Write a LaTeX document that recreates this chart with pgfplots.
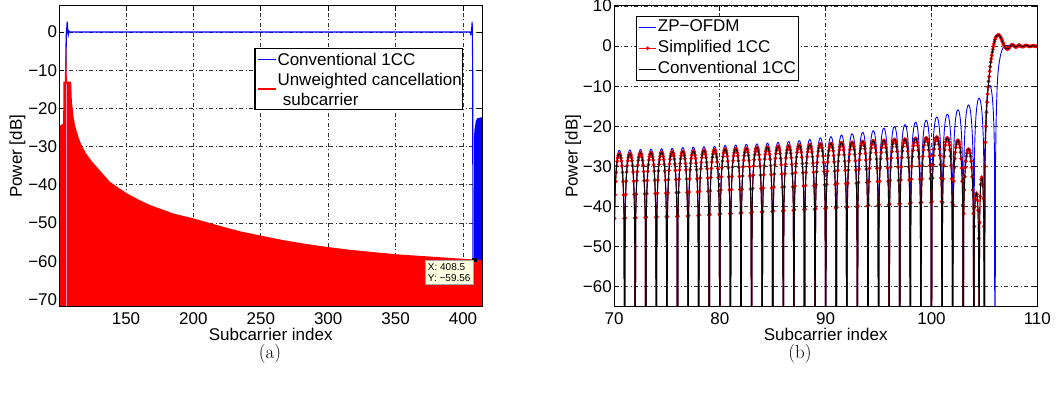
\documentclass[border=0pt]{standalone}
\usepackage{pgfplots}
\pgfplotsset{compat=1.18}
\usepackage{pgfplotstable}
\usepackage{fontspec}
\newfontfamily\arial{Liberation Sans}
\newcommand\af{\arial\fontsize{17bp}{20bp}\selectfont}
\definecolor{tipbg}{RGB}{255,255,225}
\definecolor{gapc}{RGB}{238,150,200}
\pgfplotsset{
  mystyle/.style={
    scale only axis,
    anchor=south west,
    tick align=inside,
    major tick length=5bp,
    tick style={black, line width=0.8bp},
    axis line style={black, line width=1bp},
    grid=major,
    major grid style={black!80, line width=0.7bp, dash pattern=on 4bp off 2.5bp on 1bp off 2.5bp},
    tick label style={font=\af},
    xticklabel style={inner sep=0pt, anchor=north, yshift=-5.6bp},
    yticklabel style={inner sep=0pt, anchor=east, xshift=-2bp},
    label style={font=\af},
    clip marker paths=true,
    legend cell align=left,
    legend image code/.code={\draw[mark repeat=2,mark phase=2,#1] plot coordinates {(0bp,0bp) (8.85bp,0bp) (17.7bp,0bp)};},
  }
}
\begin{document}
\pgfplotstableread{
x b k
70 -100 -100
70.05 -42.1 -43
70.1 -36.2 -37.1
70.15 -32.9 -33.8
70.2 -30.6 -31.5
70.25 -29 -29.9
70.3 -27.8 -28.7
70.35 -27 -27.9
70.4 -26.4 -27.3
70.45 -26.1 -27
70.5 -26 -26.9
70.55 -26.1 -27
70.6 -26.4 -27.3
70.65 -27 -27.9
70.7 -27.8 -28.7
70.75 -29 -29.9
70.8 -30.6 -31.5
70.85 -32.9 -33.8
70.9 -36.2 -37.1
70.95 -42.1 -43
71 -100 -100
71.05 -42 -42.9
71.1 -36.1 -37
71.15 -32.8 -33.7
71.2 -30.5 -31.4
71.25 -28.9 -29.8
71.3 -27.7 -28.6
71.35 -26.9 -27.8
71.4 -26.3 -27.2
71.45 -26 -26.9
71.5 -25.9 -26.8
71.55 -26 -26.9
71.6 -26.3 -27.2
71.65 -26.9 -27.8
71.7 -27.7 -28.6
71.75 -28.9 -29.8
71.8 -30.5 -31.4
71.85 -32.8 -33.7
71.9 -36.1 -37
71.95 -42 -42.9
72 -100 -100
72.05 -41.9 -42.8
72.1 -36 -36.9
72.15 -32.7 -33.6
72.2 -30.4 -31.3
72.25 -28.8 -29.7
72.3 -27.6 -28.5
72.35 -26.8 -27.7
72.4 -26.2 -27.1
72.45 -25.9 -26.8
72.5 -25.8 -26.7
72.55 -25.9 -26.8
72.6 -26.2 -27.1
72.65 -26.8 -27.7
72.7 -27.6 -28.5
72.75 -28.8 -29.7
72.8 -30.4 -31.3
72.85 -32.7 -33.6
72.9 -36 -36.9
72.95 -41.9 -42.8
73 -100 -100
73.05 -41.8 -42.7
73.1 -35.9 -36.8
73.15 -32.6 -33.5
73.2 -30.3 -31.2
73.25 -28.7 -29.6
73.3 -27.5 -28.4
73.35 -26.7 -27.6
73.4 -26.1 -27
73.45 -25.8 -26.7
73.5 -25.7 -26.6
73.55 -25.8 -26.7
73.6 -26.1 -27
73.65 -26.7 -27.6
73.7 -27.5 -28.4
73.75 -28.7 -29.6
73.8 -30.3 -31.2
73.85 -32.6 -33.5
73.9 -35.9 -36.8
73.95 -41.8 -42.7
74 -100 -100
74.05 -41.7 -42.6
74.1 -35.8 -36.7
74.15 -32.5 -33.4
74.2 -30.2 -31.1
74.25 -28.6 -29.5
74.3 -27.4 -28.3
74.35 -26.6 -27.5
74.4 -26 -26.9
74.45 -25.7 -26.6
74.5 -25.6 -26.5
74.55 -25.7 -26.6
74.6 -26 -26.9
74.65 -26.6 -27.5
74.7 -27.4 -28.3
74.75 -28.6 -29.5
74.8 -30.2 -31.1
74.85 -32.5 -33.4
74.9 -35.8 -36.7
74.95 -41.7 -42.6
75 -100 -100
75.05 -41.6 -42.5
75.1 -35.7 -36.6
75.15 -32.4 -33.3
75.2 -30.1 -31
75.25 -28.5 -29.4
75.3 -27.3 -28.2
75.35 -26.5 -27.4
75.4 -25.9 -26.8
75.45 -25.6 -26.5
75.5 -25.5 -26.4
75.55 -25.6 -26.5
75.6 -25.9 -26.8
75.65 -26.5 -27.4
75.7 -27.3 -28.2
75.75 -28.5 -29.4
75.8 -30.1 -31
75.85 -32.4 -33.3
75.9 -35.7 -36.6
75.95 -41.6 -42.5
76 -100 -100
76.05 -41.4 -42.4
76.1 -35.5 -36.5
76.15 -32.2 -33.2
76.2 -29.9 -30.9
76.25 -28.3 -29.3
76.3 -27.1 -28.1
76.35 -26.3 -27.3
76.4 -25.7 -26.7
76.45 -25.4 -26.4
76.5 -25.3 -26.3
76.55 -25.4 -26.4
76.6 -25.7 -26.7
76.65 -26.3 -27.3
76.7 -27.1 -28.1
76.75 -28.3 -29.3
76.8 -29.9 -30.9
76.85 -32.2 -33.2
76.9 -35.5 -36.5
76.95 -41.4 -42.4
77 -100 -100
77.05 -41.3 -42.3
77.1 -35.4 -36.4
77.15 -32.1 -33.1
77.2 -29.8 -30.8
77.25 -28.2 -29.2
77.3 -27 -28
77.35 -26.2 -27.2
77.4 -25.6 -26.6
77.45 -25.3 -26.3
77.5 -25.2 -26.2
77.55 -25.3 -26.3
77.6 -25.6 -26.6
77.65 -26.2 -27.2
77.7 -27 -28
77.75 -28.2 -29.2
77.8 -29.8 -30.8
77.85 -32.1 -33.1
77.9 -35.4 -36.4
77.95 -41.3 -42.3
78 -100 -100
78.05 -41.2 -42.1
78.1 -35.3 -36.2
78.15 -32 -32.9
78.2 -29.7 -30.6
78.25 -28.1 -29
78.3 -26.9 -27.8
78.35 -26.1 -27
78.4 -25.5 -26.4
78.45 -25.2 -26.1
78.5 -25.1 -26
78.55 -25.2 -26.1
78.6 -25.5 -26.4
78.65 -26.1 -27
78.7 -26.9 -27.8
78.75 -28.1 -29
78.8 -29.7 -30.6
78.85 -32 -32.9
78.9 -35.3 -36.2
78.95 -41.2 -42.1
79 -100 -100
79.05 -41.1 -42
79.1 -35.2 -36.1
79.15 -31.9 -32.8
79.2 -29.6 -30.5
79.25 -28 -28.9
79.3 -26.8 -27.7
79.35 -26 -26.9
79.4 -25.4 -26.3
79.45 -25.1 -26
79.5 -25 -25.9
79.55 -25.1 -26
79.6 -25.4 -26.3
79.65 -26 -26.9
79.7 -26.8 -27.7
79.75 -28 -28.9
79.8 -29.6 -30.5
79.85 -31.9 -32.8
79.9 -35.2 -36.1
79.95 -41.1 -42
80 -100 -100
80.05 -40.9 -41.8
80.1 -35 -35.9
80.15 -31.7 -32.6
80.2 -29.4 -30.3
80.25 -27.8 -28.7
80.3 -26.6 -27.5
80.35 -25.8 -26.7
80.4 -25.2 -26.1
80.45 -24.9 -25.8
80.5 -24.8 -25.7
80.55 -24.9 -25.8
80.6 -25.2 -26.1
80.65 -25.8 -26.7
80.7 -26.6 -27.5
80.75 -27.8 -28.7
80.8 -29.4 -30.3
80.85 -31.7 -32.6
80.9 -35 -35.9
80.95 -40.9 -41.8
81 -100 -100
81.05 -40.8 -41.7
81.1 -34.9 -35.8
81.15 -31.6 -32.5
81.2 -29.3 -30.2
81.25 -27.7 -28.6
81.3 -26.5 -27.4
81.35 -25.7 -26.6
81.4 -25.1 -26
81.45 -24.8 -25.7
81.5 -24.7 -25.6
81.55 -24.8 -25.7
81.6 -25.1 -26
81.65 -25.7 -26.6
81.7 -26.5 -27.4
81.75 -27.7 -28.6
81.8 -29.3 -30.2
81.85 -31.6 -32.5
81.9 -34.9 -35.8
81.95 -40.8 -41.7
82 -100 -100
82.05 -40.6 -41.6
82.1 -34.7 -35.7
82.15 -31.4 -32.4
82.2 -29.1 -30.1
82.25 -27.5 -28.5
82.3 -26.3 -27.3
82.35 -25.5 -26.5
82.4 -24.9 -25.9
82.45 -24.6 -25.6
82.5 -24.5 -25.5
82.55 -24.6 -25.6
82.6 -24.9 -25.9
82.65 -25.5 -26.5
82.7 -26.3 -27.3
82.75 -27.5 -28.5
82.8 -29.1 -30.1
82.85 -31.4 -32.4
82.9 -34.7 -35.7
82.95 -40.6 -41.6
83 -100 -100
83.05 -40.5 -41.4
83.1 -34.6 -35.5
83.15 -31.3 -32.2
83.2 -29 -29.9
83.25 -27.4 -28.3
83.3 -26.2 -27.1
83.35 -25.4 -26.3
83.4 -24.8 -25.7
83.45 -24.5 -25.4
83.5 -24.4 -25.3
83.55 -24.5 -25.4
83.6 -24.8 -25.7
83.65 -25.4 -26.3
83.7 -26.2 -27.1
83.75 -27.4 -28.3
83.8 -29 -29.9
83.85 -31.3 -32.2
83.9 -34.6 -35.5
83.95 -40.5 -41.4
84 -100 -100
84.05 -40.3 -41.3
84.1 -34.4 -35.4
84.15 -31.1 -32.1
84.2 -28.8 -29.8
84.25 -27.2 -28.2
84.3 -26 -27
84.35 -25.2 -26.2
84.4 -24.6 -25.6
84.45 -24.3 -25.3
84.5 -24.2 -25.2
84.55 -24.3 -25.3
84.6 -24.6 -25.6
84.65 -25.2 -26.2
84.7 -26 -27
84.75 -27.2 -28.2
84.8 -28.8 -29.8
84.85 -31.1 -32.1
84.9 -34.4 -35.4
84.95 -40.3 -41.3
85 -100 -100
85.05 -40.1 -41.1
85.1 -34.2 -35.2
85.15 -30.9 -31.9
85.2 -28.6 -29.6
85.25 -27 -28
85.3 -25.8 -26.8
85.35 -25 -26
85.4 -24.4 -25.4
85.45 -24.1 -25.1
85.5 -24 -25
85.55 -24.1 -25.1
85.6 -24.4 -25.4
85.65 -25 -26
85.7 -25.8 -26.8
85.75 -27 -28
85.8 -28.6 -29.6
85.85 -30.9 -31.9
85.9 -34.2 -35.2
85.95 -40.1 -41.1
86 -100 -100
86.05 -39.9 -41
86.1 -34 -35.1
86.15 -30.7 -31.8
86.2 -28.4 -29.5
86.25 -26.8 -27.9
86.3 -25.6 -26.7
86.35 -24.8 -25.9
86.4 -24.2 -25.3
86.45 -23.9 -25
86.5 -23.8 -24.9
86.55 -23.9 -25
86.6 -24.2 -25.3
86.65 -24.8 -25.9
86.7 -25.6 -26.7
86.75 -26.8 -27.9
86.8 -28.4 -29.5
86.85 -30.7 -31.8
86.9 -34 -35.1
86.95 -39.9 -41
87 -100 -100
87.05 -39.7 -40.8
87.1 -33.8 -34.9
87.15 -30.5 -31.6
87.2 -28.2 -29.3
87.25 -26.6 -27.7
87.3 -25.4 -26.5
87.35 -24.6 -25.7
87.4 -24 -25.1
87.45 -23.7 -24.8
87.5 -23.6 -24.7
87.55 -23.7 -24.8
87.6 -24 -25.1
87.65 -24.6 -25.7
87.7 -25.4 -26.5
87.75 -26.6 -27.7
87.8 -28.2 -29.3
87.85 -30.5 -31.6
87.9 -33.8 -34.9
87.95 -39.7 -40.8
88 -100 -100
88.05 -39.4 -40.7
88.1 -33.5 -34.8
88.15 -30.2 -31.5
88.2 -27.9 -29.2
88.25 -26.3 -27.6
88.3 -25.1 -26.4
88.35 -24.3 -25.6
88.4 -23.7 -25
88.45 -23.4 -24.7
88.5 -23.3 -24.6
88.55 -23.4 -24.7
88.6 -23.7 -25
88.65 -24.3 -25.6
88.7 -25.1 -26.4
88.75 -26.3 -27.6
88.8 -27.9 -29.2
88.85 -30.2 -31.5
88.9 -33.5 -34.8
88.95 -39.4 -40.7
89 -100 -100
89.05 -39 -40.5
89.1 -33.1 -34.6
89.15 -29.8 -31.3
89.2 -27.5 -29
89.25 -25.9 -27.4
89.3 -24.7 -26.2
89.35 -23.9 -25.4
89.4 -23.3 -24.8
89.45 -23 -24.5
89.5 -22.9 -24.4
89.55 -23 -24.5
89.6 -23.3 -24.8
89.65 -23.9 -25.4
89.7 -24.7 -26.2
89.75 -25.9 -27.4
89.8 -27.5 -29
89.85 -29.8 -31.3
89.9 -33.1 -34.6
89.95 -39 -40.5
90 -100 -100
90.05 -38.7 -40.4
90.1 -32.8 -34.5
90.15 -29.5 -31.2
90.2 -27.2 -28.9
90.25 -25.6 -27.3
90.3 -24.4 -26.1
90.35 -23.6 -25.3
90.4 -23 -24.7
90.45 -22.7 -24.4
90.5 -22.6 -24.3
90.55 -22.7 -24.4
90.6 -23 -24.7
90.65 -23.6 -25.3
90.7 -24.4 -26.1
90.75 -25.6 -27.3
90.8 -27.2 -28.9
90.85 -29.5 -31.2
90.9 -32.8 -34.5
90.95 -38.7 -40.4
91 -100 -100
91.05 -38.3 -40.2
91.1 -32.4 -34.3
91.15 -29.1 -31
91.2 -26.8 -28.7
91.25 -25.2 -27.1
91.3 -24 -25.9
91.35 -23.2 -25.1
91.4 -22.6 -24.5
91.45 -22.3 -24.2
91.5 -22.2 -24.1
91.55 -22.3 -24.2
91.6 -22.6 -24.5
91.65 -23.2 -25.1
91.7 -24 -25.9
91.75 -25.2 -27.1
91.8 -26.8 -28.7
91.85 -29.1 -31
91.9 -32.4 -34.3
91.95 -38.3 -40.2
92 -100 -100
92.05 -38 -40.1
92.1 -32.1 -34.2
92.15 -28.8 -30.9
92.2 -26.5 -28.6
92.25 -24.9 -27
92.3 -23.7 -25.8
92.35 -22.9 -25
92.4 -22.3 -24.4
92.45 -22 -24.1
92.5 -21.9 -24
92.55 -22 -24.1
92.6 -22.3 -24.4
92.65 -22.9 -25
92.7 -23.7 -25.8
92.75 -24.9 -27
92.8 -26.5 -28.6
92.85 -28.8 -30.9
92.9 -32.1 -34.2
92.95 -38 -40.1
93 -100 -100
93.05 -37.6 -39.9
93.1 -31.7 -34
93.15 -28.4 -30.7
93.2 -26.1 -28.4
93.25 -24.5 -26.8
93.3 -23.3 -25.6
93.35 -22.5 -24.8
93.4 -21.9 -24.2
93.45 -21.6 -23.9
93.5 -21.5 -23.8
93.55 -21.6 -23.9
93.6 -21.9 -24.2
93.65 -22.5 -24.8
93.7 -23.3 -25.6
93.75 -24.5 -26.8
93.8 -26.1 -28.4
93.85 -28.4 -30.7
93.9 -31.7 -34
93.95 -37.6 -39.9
94 -100 -100
94.05 -37.2 -39.7
94.1 -31.3 -33.8
94.15 -28 -30.5
94.2 -25.7 -28.2
94.25 -24.1 -26.6
94.3 -22.9 -25.4
94.35 -22.1 -24.6
94.4 -21.5 -24
94.45 -21.2 -23.7
94.5 -21.1 -23.6
94.55 -21.2 -23.7
94.6 -21.5 -24
94.65 -22.1 -24.6
94.7 -22.9 -25.4
94.75 -24.1 -26.6
94.8 -25.7 -28.2
94.85 -28 -30.5
94.9 -31.3 -33.8
94.95 -37.2 -39.7
95 -100 -100
95.05 -36.6 -39.6
95.1 -30.7 -33.7
95.15 -27.4 -30.4
95.2 -25.1 -28.1
95.25 -23.5 -26.5
95.3 -22.3 -25.3
95.35 -21.5 -24.5
95.4 -20.9 -23.9
95.45 -20.6 -23.6
95.5 -20.5 -23.5
95.55 -20.6 -23.6
95.6 -20.9 -23.9
95.65 -21.5 -24.5
95.7 -22.3 -25.3
95.75 -23.5 -26.5
95.8 -25.1 -28.1
95.85 -27.4 -30.4
95.9 -30.7 -33.7
95.95 -36.6 -39.6
96 -100 -100
96.05 -36.2 -39.4
96.1 -30.3 -33.5
96.15 -27 -30.2
96.2 -24.7 -27.9
96.25 -23.1 -26.3
96.3 -21.9 -25.1
96.35 -21.1 -24.3
96.4 -20.5 -23.7
96.45 -20.2 -23.4
96.5 -20.1 -23.3
96.55 -20.2 -23.4
96.6 -20.5 -23.7
96.65 -21.1 -24.3
96.7 -21.9 -25.1
96.75 -23.1 -26.3
96.8 -24.7 -27.9
96.85 -27 -30.2
96.9 -30.3 -33.5
96.95 -36.2 -39.4
97 -100 -100
97.05 -35.7 -39.3
97.1 -29.8 -33.4
97.15 -26.5 -30.1
97.2 -24.2 -27.8
97.25 -22.6 -26.2
97.3 -21.4 -25
97.35 -20.6 -24.2
97.4 -20 -23.6
97.45 -19.7 -23.3
97.5 -19.6 -23.2
97.55 -19.7 -23.3
97.6 -20 -23.6
97.65 -20.6 -24.2
97.7 -21.4 -25
97.75 -22.6 -26.2
97.8 -24.2 -27.8
97.85 -26.5 -30.1
97.9 -29.8 -33.4
97.95 -35.7 -39.3
98 -100 -100
98.05 -35.1 -39.1
98.1 -29.2 -33.2
98.15 -25.9 -29.9
98.2 -23.6 -27.6
98.25 -22 -26
98.3 -20.8 -24.8
98.35 -20 -24
98.4 -19.4 -23.4
98.45 -19.1 -23.1
98.5 -19 -23
98.55 -19.1 -23.1
98.6 -19.4 -23.4
98.65 -20 -24
98.7 -20.8 -24.8
98.75 -22 -26
98.8 -23.6 -27.6
98.85 -25.9 -29.9
98.9 -29.2 -33.2
98.95 -35.1 -39.1
99 -100 -100
99.05 -34.6 -39
99.1 -28.7 -33.1
99.15 -25.4 -29.8
99.2 -23.1 -27.5
99.25 -21.5 -25.9
99.3 -20.3 -24.7
99.35 -19.5 -23.9
99.4 -18.9 -23.3
99.45 -18.6 -23
99.5 -18.5 -22.9
99.55 -18.6 -23
99.6 -18.9 -23.3
99.65 -19.5 -23.9
99.7 -20.3 -24.7
99.75 -21.5 -25.9
99.8 -23.1 -27.5
99.85 -25.4 -29.8
99.9 -28.7 -33.1
99.95 -34.6 -39
100 -100 -100
100.05 -33.8 -38.8
100.1 -27.9 -32.9
100.15 -24.6 -29.6
100.2 -22.3 -27.3
100.25 -20.7 -25.7
100.3 -19.5 -24.5
100.35 -18.7 -23.7
100.4 -18.1 -23.1
100.45 -17.8 -22.8
100.5 -17.7 -22.7
100.55 -17.8 -22.8
100.6 -18.1 -23.1
100.65 -18.7 -23.7
100.7 -19.5 -24.5
100.75 -20.7 -25.7
100.8 -22.3 -27.3
100.85 -24.6 -29.6
100.9 -27.9 -32.9
100.95 -33.8 -38.8
101 -100 -100
101.05 -33.1 -39
101.1 -27.2 -33.1
101.15 -23.9 -29.8
101.2 -21.6 -27.5
101.25 -20 -25.9
101.3 -18.8 -24.7
101.35 -18 -23.9
101.4 -17.4 -23.3
101.45 -17.1 -23
101.5 -17 -22.9
101.55 -17.1 -23
101.6 -17.4 -23.3
101.65 -18 -23.9
101.7 -18.8 -24.7
101.75 -20 -25.9
101.8 -21.6 -27.5
101.85 -23.9 -29.8
101.9 -27.2 -33.1
101.95 -33.1 -39
102 -100 -100
102.05 -32 -39.6
102.1 -26.1 -33.7
102.15 -22.8 -30.4
102.2 -20.5 -28.1
102.25 -18.9 -26.5
102.3 -17.7 -25.3
102.35 -16.9 -24.5
102.4 -16.3 -23.9
102.45 -16 -23.6
102.5 -15.9 -23.5
102.55 -16 -23.6
102.6 -16.3 -23.9
102.65 -16.9 -24.5
102.7 -17.7 -25.3
102.75 -18.9 -26.5
102.8 -20.5 -28.1
102.85 -22.8 -30.4
102.9 -26.1 -33.7
102.95 -32 -39.6
103 -100 -100
103.05 -30.8 -41.8
103.1 -24.9 -35.9
103.15 -21.6 -32.6
103.2 -19.3 -30.3
103.25 -17.7 -28.7
103.3 -16.5 -27.5
103.35 -15.7 -26.7
103.4 -15.1 -26.1
103.45 -14.8 -25.8
103.5 -14.7 -25.7
103.55 -14.8 -25.8
103.6 -15.1 -26.1
103.65 -15.7 -26.7
103.7 -16.5 -27.5
103.75 -17.7 -28.7
103.8 -19.3 -30.3
103.85 -21.6 -32.6
103.9 -24.9 -35.9
103.95 -30.8 -41.8
104 -100 -100
104.05 -29.1 -45
104.1 -23.2 -40
104.15 -19.9 -38
104.2 -17.6 -37
104.25 -16 -36.7
104.3 -14.8 -37
104.35 -14 -38.5
104.4 -13.4 -41
104.45 -13.1 -48
104.5 -13 -100
104.55 -13.1 -44
104.6 -13.4 -37.5
104.65 -14 -34.5
104.7 -14.8 -33.2
104.75 -16 -32.7
104.8 -17.6 -33
104.85 -19.9 -34.5
104.9 -23.2 -38
104.95 -29.1 -45
105 -100 -100
105.05 -25.9 -30
105.1 -20 -24
105.15 -16.7 -20
105.2 -14.4 -16.5
105.25 -12.8 -14
105.3 -11.6 -12
105.35 -10.8 -10.2
105.4 -10.2 -8.8
105.45 -9.9 -7.6
105.5 -9.8 -6.3
105.55 -9.9 -5.1
105.6 -10.2 -4
105.65 -10.8 -3.1
105.7 -11.6 -2.3
105.75 -12.8 -1.5
105.8 -14.4 -0.8
105.85 -16.7 -0.1
105.9 -20 0.5
105.95 -25.9 1.1
106 -100 1.6
106.05 -30 2
106.1 -20 2.3
106.15 -14.5 2.5
106.2 -10.5 2.65
106.25 -8 2.7
106.3 -6.3 2.75
106.35 -5.1 2.75
106.4 -4.1 2.7
106.45 -3.3 2.55
106.5 -2.6 2.35
106.55 -2 2.1
106.6 -1.5 1.85
106.65 -1.1 1.55
106.7 -0.8 1.2
106.75 -0.5 0.85
106.8 -0.3 0.5
106.85 -0.2 0.2
106.9 -0.1 -0.05
106.95 0 -0.25
107 0 -0.4
107.05 0.05 -0.55
107.1 0.1 -0.65
107.15 0.1 -0.7
107.2 0.1 -0.7
107.25 0.1 -0.65
107.3 0.1 -0.55
107.35 0.05 -0.4
107.4 0 -0.2
107.45 0 0
107.5 0 0.15
107.55 0 0.25
107.6 0 0.3
107.65 0 0.3
107.7 0 0.25
107.75 0 0.15
107.8 0 0.05
107.85 0 -0.05
107.9 0 -0.15
107.95 0 -0.2
108 0 -0.2
108.05 0 -0.15
108.1 0 -0.05
108.15 0 0.05
108.2 0 0.15
108.25 0 0.2
108.3 0 0.2
108.35 0 0.15
108.4 0 0.05
108.5 0 -0.1
108.6 0 -0.15
108.7 0 -0.1
108.8 0 0.05
108.9 0 0.15
109 0 0.15
109.1 0 0.05
109.2 0 -0.05
109.3 0 -0.1
109.4 0 -0.05
109.5 0 0.05
109.6 0 0.1
109.7 0 0.05
109.8 0 -0.05
109.9 0 -0.05
110 0 0
}\tabR
\begin{tikzpicture}
\begin{axis}[mystyle, name=L, at={(59.3bp,91.3bp)}, width=422.7bp, height=300.7bp,
  xmin=100.5, xmax=414.1, ymin=-71.9, ymax=6.8,
  xtick={150,200,250,300,350,400}, xticklabels={150,200,250,300,350,400},
  ytick={-70,-60,-50,-40,-30,-20,-10,0}, yticklabels={−70,−60,−50,−40,−30,−20,−10,0},
  xlabel={Subcarrier index}, ylabel={Power [dB]},
  xlabel style={at={(axis description cs:0.5,-0.0705)}, anchor=north, inner sep=0pt},
  ylabel style={at={(axis description cs:-0.0989,0.5)}, anchor=center, inner sep=0pt},
]
\addplot[fill=blue, draw=none] coordinates {(100.5,-80) (100.5,-24) (101.2,-24) (101.2,-80)};
\addplot[fill=blue, draw=none] coordinates {(407.9,-80) (408.0,-28) (408.5,-25.7) (409.5,-23.3) (410.5,-22.6) (414.1,-22.3) (414.1,-80)};
\addplot[blue, line width=1.1bp] coordinates {(105.0,-80) (105.2,-18) (105.5,-6) (105.85,0) (106.35,2.7) (106.9,0) (107.2,-0.7) (107.7,0.2) (108.2,0) (405.3,0) (405.8,-0.6) (406.3,0) (406.8,2.7) (407.2,-10) (407.4,-80)};
\addplot[fill=red, draw=none] coordinates {(101.0,-80) (101.0,-24.5) (103.4,-24) (103.5,-13) (104.6,-13) (105.1,-3) (105.35,0) (105.6,-3) (106.1,-13) (109.3,-13) (109.8,-18) (111,-22) (112.2,-24.5) (113.4,-26) (115,-27.8) (117,-29.6) (120,-31.6) (125,-34) (130,-36) (138,-39.2) (150,-42.1) (160,-44) (168,-45.3) (185,-47.5) (200,-48.8) (217,-50.5) (235,-52.2) (250,-53.3) (267,-54.5) (284,-55.5) (300,-56.3) (316,-57.0) (333,-57.6) (351,-58.2) (368,-58.6) (385,-59.0) (408.5,-59.56) (414.1,-59.7) (414.1,-80)};
\addplot[gapc, line width=1.2bp] coordinates {(106,-80) (106,-13.5)};
\addplot[only marks, mark=square*, mark size=1.8bp, black] coordinates {(408.5,-59.56)};
\node[fill=tipbg, draw=gray!70, line width=0.5bp, font=\arial\fontsize{10bp}{11.7bp}\selectfont, align=left, anchor=north east, inner sep=2.5bp] at (axis cs:407.6,-59.8) {X: 408.5\\Y: −59.56};
\end{axis}
\draw[black, line width=1bp] (L.south west) rectangle (L.north east);
% legend of panel (a)
\draw[black, line width=1.2bp, fill=white] ([xshift=195.7bp, yshift=-42.3bp]L.north west) rectangle ([xshift=403.4bp, yshift=-103.3bp]L.north west);
\draw[blue, line width=1.1bp] ([xshift=198.7bp, yshift=-53.3bp]L.north west) -- ++(18bp,0);
\draw[red, line width=1.1bp] ([xshift=198.7bp, yshift=-83bp]L.north west) -- ++(18bp,0);
\node[font=\af, inner sep=0pt, anchor=base west] at ([xshift=218bp, yshift=-59.4bp]L.north west) {Conventional 1CC};
\node[font=\af, inner sep=0pt, anchor=base west] at ([xshift=218bp, yshift=-79.4bp]L.north west) {Unweighted cancellation};
\node[font=\af, inner sep=0pt, anchor=base west] at ([xshift=223.4bp, yshift=-99.4bp]L.north west) {subcarrier};
\begin{axis}[mystyle, name=R, at={(614bp,91.3bp)}, width=423.3bp, height=300.7bp,
  xmin=70, xmax=110, ymin=-65, ymax=10,
  xtick={70,80,90,100,110}, xticklabels={70,80,90,100,110},
  ytick={-60,-50,-40,-30,-20,-10,0,10}, yticklabels={−60,−50,−40,−30,−20,−10,0,10},
  xlabel={Subcarrier index}, ylabel={Power [dB]},
  xlabel style={at={(axis description cs:0.5,-0.0705)}, anchor=north, inner sep=0pt},
  ylabel style={at={(axis description cs:-0.0962,0.5)}, anchor=center, inner sep=0pt},
  legend style={at={(0.0513,0.9677)}, anchor=north west, font=\af, draw=black, line width=1.2bp, fill=white, inner xsep=2bp, inner ysep=0.5bp, nodes={inner sep=1bp, text height=13.5bp, text depth=5.5bp}},
]
\addplot[blue, line width=0.9bp] table[x=x, y=b] {\tabR};
\addlegendentry{ZP−OFDM}
\addplot[red, line width=0.9bp, mark=*, mark size=1.4bp, mark options={draw=none, fill=red}] table[x=x, y=k] {\tabR};
\addlegendentry{Simplified 1CC}
\addplot[black, line width=0.9bp] table[x=x, y=k] {\tabR};
\addlegendentry{Conventional 1CC}
\end{axis}
\draw[black, line width=1bp] (R.south west) rectangle (R.north east);
\node[font=\fontsize{19bp}{23bp}\selectfont] at (270bp,44bp) {(a)};
\node[font=\fontsize{19bp}{23bp}\selectfont] at (800bp,44bp) {(b)};
\pgfresetboundingbox
\useasboundingbox (0,0) rectangle (1057bp,398bp);
\end{tikzpicture}
\end{document}
